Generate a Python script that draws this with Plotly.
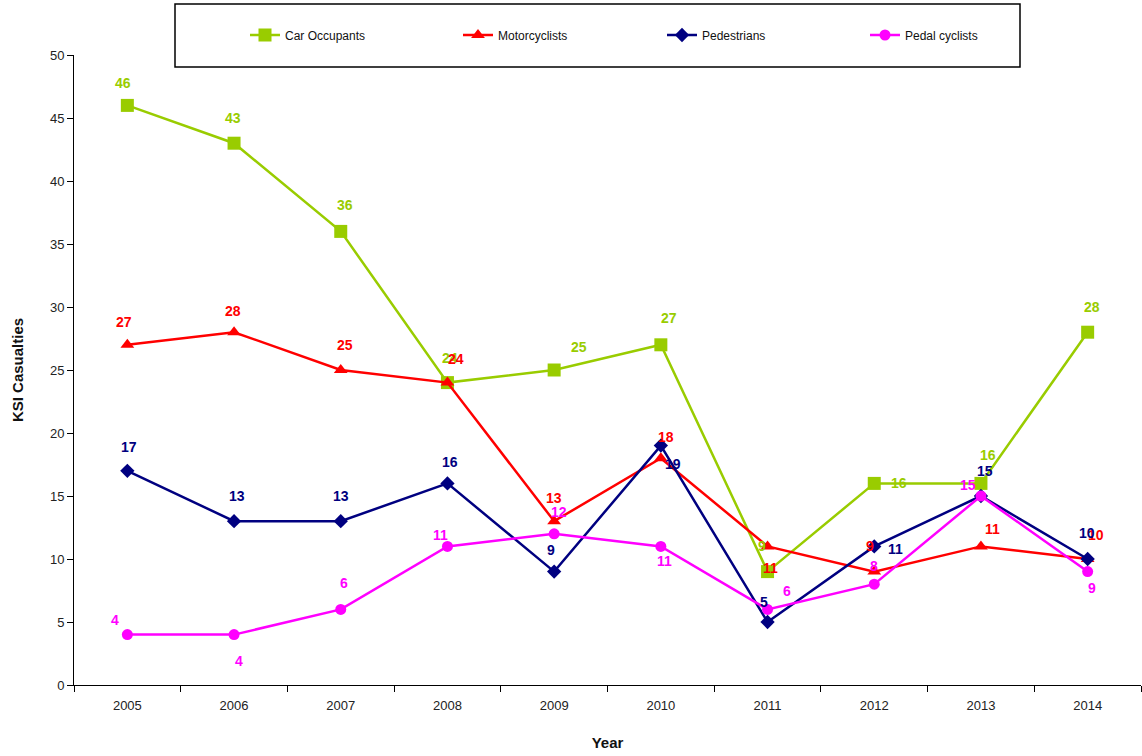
import plotly.graph_objects as go

years = ["2005", "2006", "2007", "2008", "2009", "2010", "2011", "2012", "2013", "2014"]
car_occupants = [46, 43, 36, 24, 25, 27, 9, 16, 16, 28]
motorcyclists = [27, 28, 25, 24, 13, 18, 11, 9, 11, 10]
pedestrians = [17, 13, 13, 16, 9, 19, 5, 11, 15, 10]
pedal_cyclists = [4, 4, 6, 11, 12, 11, 6, 8, 15, 9]

# label offsets in pixels (dx, dy), purely styling
car_off = [(-4, 22), (-1, 25), (4, 26), (3, 25), (25, 23), (8, 27), (-6, 26), (25, 0), (7, 28), (4, 25)]
moto_off = [(-3, 23), (-1, 21), (4, 25), (9, 24), (0, 23), (5, 21), (3, -22), (-4, 26), (12, 17), (8, 24)]
ped_off = [(2, 24), (3, 25), (0, 25), (3, 21), (-3, 22), (12, -18), (-4, 20), (21, -3), (4, 25), (-1, 26)]
pedal_off = [(-12, 15), (5, -26), (3, 26), (-7, 11), (5, 22), (4, -15), (19, 18), (0, 18), (-13, 11), (4, -16)]

W, H = 1142, 756
L, R, T, B = 74, 1, 55, 71
pw = W - L - R
ph = H - T - B

def px_x(p):
    return (p - L) / pw

def px_y(p):
    return (H - B - p) / ph

series = [
    ("Car Occupants", car_occupants, "#99CC00", "square", 13, car_off, "legend", 245),
    ("Motorcyclists", motorcyclists, "#FF0000", "triangle-up", 12, moto_off, "legend2", 458),
    ("Pedestrians", pedestrians, "#000080", "diamond", 11, ped_off, "legend3", 662),
    ("Pedal cyclists", pedal_cyclists, "#FF00FF", "circle", 11, pedal_off, "legend4", 865),
]

FONT = "Liberation Sans, Arial, sans-serif"
fig = go.Figure()
annotations = []
legends = {}
for name, vals, color, sym, size, offs, leg, lx in series:
    fig.add_trace(go.Scatter(
        x=years, y=vals, name=name, mode="lines+markers",
        line=dict(color=color, width=2.5),
        marker=dict(symbol=sym, size=size, color=color),
        hoverinfo="skip", legend=leg,
    ))
    legends[leg] = dict(
        orientation="h", x=px_x(lx), xanchor="left", y=px_y(35), yanchor="middle",
        font=dict(family=FONT, size=12, color="#111111"),
        bgcolor="rgba(0,0,0,0)", itemclick=False, itemdoubleclick=False,
        borderwidth=0,
    )
    for i, (v, (dx, dy)) in enumerate(zip(vals, offs)):
        annotations.append(dict(
            x=i, y=v, xref="x", yref="y", text="<b>%d</b>" % v, showarrow=False,
            xshift=dx, yshift=dy, font=dict(family=FONT, size=14, color=color),
        ))

fig.update_layout(
    width=W, height=H,
    margin=dict(l=L, r=R, t=T, b=B, autoexpand=False),
    paper_bgcolor="white", plot_bgcolor="white",
    font=dict(family=FONT, size=13, color="#222222"),
    showlegend=True,
    annotations=annotations,
    shapes=[dict(type="rect", xref="paper", yref="paper",
                 x0=px_x(175), x1=px_x(1020), y0=px_y(67), y1=px_y(4),
                 line=dict(color="black", width=1.5), fillcolor="rgba(0,0,0,0)")],
    xaxis=dict(
        type="category", range=[-0.5, 9.5], showgrid=False, showline=True, linecolor="black", linewidth=1,
        ticks="outside", ticklen=6, tickcolor="black", tickson="boundaries", tickangle=0,
        ticklabelstandoff=8, automargin=False,
        title=dict(text="<b>Year</b>", font=dict(family=FONT, size=15, color="#111111"), standoff=25),
        tickfont=dict(family=FONT, size=13, color="#222222"),
    ),
    yaxis=dict(
        range=[0, 50], dtick=5, showgrid=False, showline=True, linecolor="black", linewidth=1,
        ticks="outside", ticklen=6, tickcolor="black", zeroline=False, automargin=False,
        title=dict(text="<b>KSI Casualties</b>", font=dict(family=FONT, size=15, color="#111111"), standoff=22),
        tickfont=dict(family=FONT, size=13, color="#222222"),
    ),
    **legends,
)

fig.write_html(
    "out.html",
    config={"displayModeBar": False},
    post_script="document.body.style.margin='0px';document.body.style.overflow='hidden';",
)
